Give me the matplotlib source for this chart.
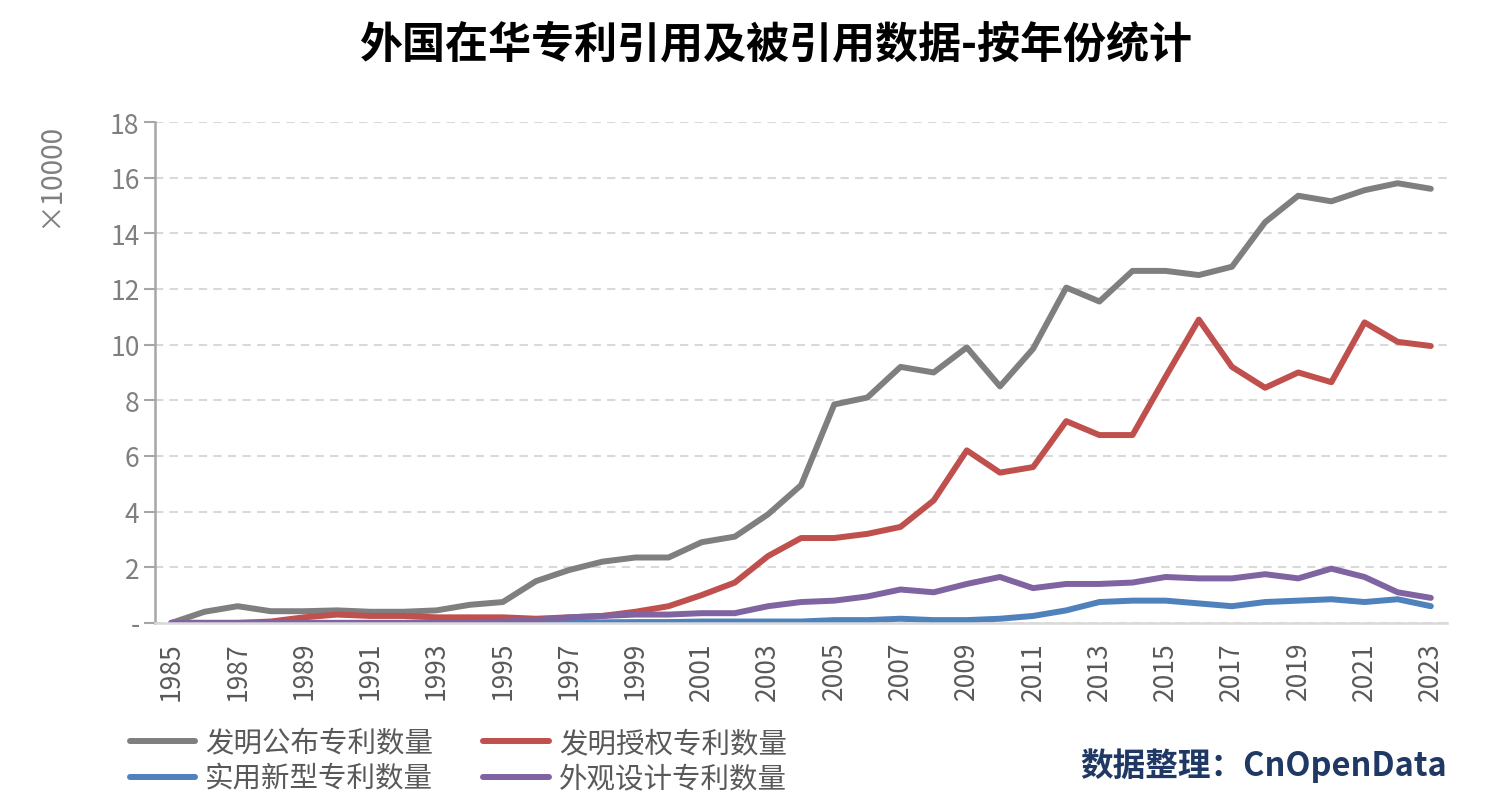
import matplotlib
matplotlib.use("Agg")
import matplotlib.pyplot as plt

plt.rcParams['font.family'] = ['Noto Sans CJK SC', 'DejaVu Sans']

years = list(range(1985, 2024))

# values in units of 10000
invention_pub = [0.0, 0.4, 0.6, 0.42, 0.42, 0.45, 0.4, 0.4, 0.45, 0.65,
                 0.75, 1.5, 1.9, 2.2, 2.35, 2.35, 2.9, 3.1, 3.9, 4.95,
                 7.85, 8.1, 9.2, 9.0, 9.9, 8.5, 9.85, 12.05, 11.55, 12.65,
                 12.65, 12.5, 12.8, 14.4, 15.35, 15.15, 15.55, 15.8, 15.6]
invention_grant = [0.0, 0.0, 0.0, 0.05, 0.2, 0.3, 0.25, 0.25, 0.2, 0.2,
                   0.2, 0.15, 0.2, 0.25, 0.4, 0.6, 1.0, 1.45, 2.4, 3.05,
                   3.05, 3.2, 3.45, 4.4, 6.2, 5.4, 5.6, 7.25, 6.75, 6.75,
                   8.85, 10.9, 9.2, 8.45, 9.0, 8.65, 10.8, 10.1, 9.95]
utility = [0.0, 0.0, 0.0, 0.0, 0.0, 0.0, 0.0, 0.0, 0.0, 0.0,
           0.0, 0.0, 0.02, 0.02, 0.03, 0.03, 0.05, 0.05, 0.05, 0.05,
           0.1, 0.1, 0.15, 0.1, 0.1, 0.15, 0.25, 0.45, 0.75, 0.8,
           0.8, 0.7, 0.6, 0.75, 0.8, 0.85, 0.75, 0.85, 0.6]
design = [0.0, 0.0, 0.0, 0.0, 0.0, 0.0, 0.0, 0.0, 0.02, 0.03,
          0.05, 0.1, 0.2, 0.25, 0.3, 0.3, 0.35, 0.35, 0.6, 0.75,
          0.8, 0.95, 1.2, 1.1, 1.4, 1.65, 1.25, 1.4, 1.4, 1.45,
          1.65, 1.6, 1.6, 1.75, 1.6, 1.95, 1.65, 1.1, 0.9]

names = ["发明公布专利数量", "发明授权专利数量", "实用新型专利数量", "外观设计专利数量"]
colors = ["#7f7f7f", "#c0504d", "#4f81bd", "#8064a2"]
series = [invention_pub, invention_grant, utility, design]

fig = plt.figure(figsize=(15.03, 8.04), dpi=100)
ax = fig.add_axes([0.103, 0.224, 0.86, 0.623])

lines = []
for vals, name, c in zip(series, names, colors):
    ln, = ax.plot(years, vals, color=c, lw=4.3, label=name, solid_capstyle='round')
    lines.append(ln)

ax.set_xlim(1984.5, 2023.5)
ax.set_ylim(0, 18)
ax.set_yticks(range(0, 19, 2))
ax.set_yticklabels(["-"] + [str(v) for v in range(2, 19, 2)])
ax.set_xticks(range(1985, 2024, 2))
ax.set_xticklabels([str(y) for y in range(1985, 2024, 2)], rotation=90)

ax.grid(axis='y', color='#d9d9d9', ls=(0, (4, 3)), lw=1.5)
ax.set_axisbelow(True)
for s in ['top', 'right']:
    ax.spines[s].set_visible(False)
ax.spines['left'].set_color('#a6a6a6')
ax.spines['left'].set_linewidth(1.8)
ax.spines['bottom'].set_color('#d9d9d9')
ax.spines['bottom'].set_linewidth(1.8)
ax.tick_params(axis='y', length=8, width=1.5, color='#a6a6a6', labelsize=19,
               labelcolor='#7f7f7f', pad=3)
ax.tick_params(axis='x', length=0, labelsize=19, labelcolor='#595959', pad=13)

fig.text(50 / 1503, 1 - 175 / 804, "×10000", rotation=90, fontsize=20,
         color='#7f7f7f', ha='center', va='center')

fig.suptitle("外国在华专利引用及被引用数据-按年份统计", x=0.516, y=1 - 45 / 804,
             fontsize=31, fontweight='bold', va='center')

order = [0, 2, 1, 3]
fig.legend([lines[i] for i in order], [names[i] for i in order], ncol=2,
           loc='center left', bbox_to_anchor=(130 / 1503, 1 - 762 / 804),
           borderaxespad=0, borderpad=0,
           frameon=False, fontsize=20.5, handlelength=2.3, handletextpad=0.35,
           columnspacing=1.75, labelspacing=0.19, labelcolor='#595959')

fig.text(1447 / 1503, 1 - 766 / 804, "数据整理：CnOpenData", ha='right', va='center',
         fontsize=23.5, fontweight='bold', color='#1f3864')

fig.savefig("out.png", dpi=100)
